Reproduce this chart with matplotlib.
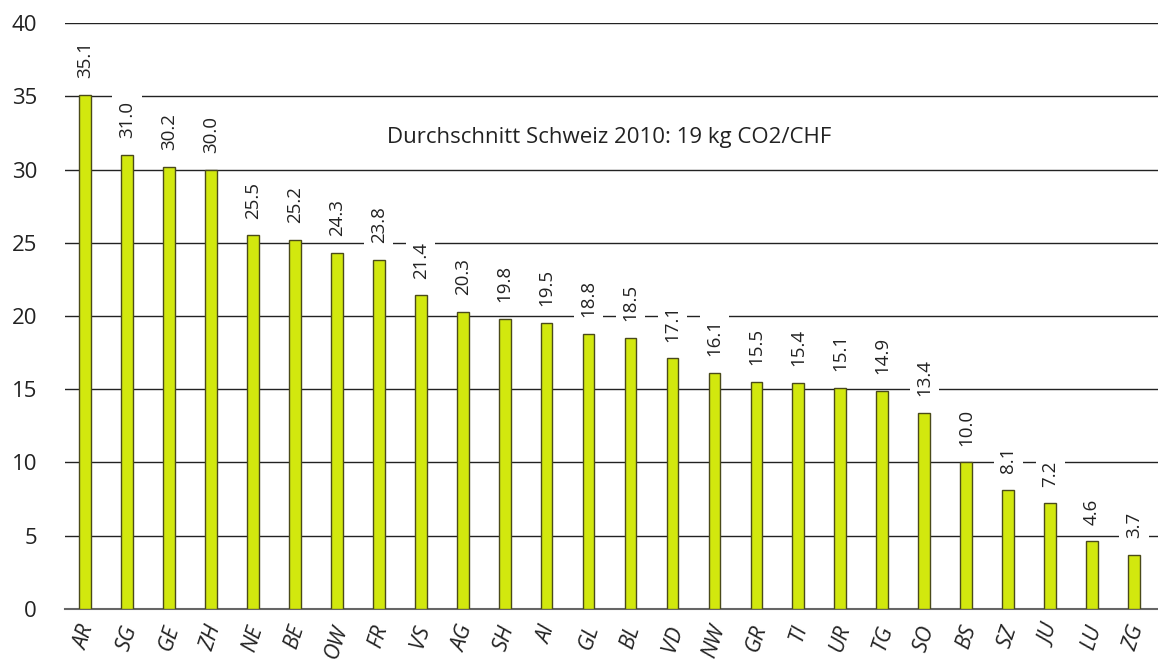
import matplotlib.pyplot as plt

plt.rcParams['font.family'] = ['Open Sans', 'DejaVu Sans']

# Kantone und Werte (kg CO2/CHF)
kantone = ['AR', 'SG', 'GE', 'ZH', 'NE', 'BE', 'OW', 'FR', 'VS', 'AG', 'SH', 'AI', 'GL',
           'BL', 'VD', 'NW', 'GR', 'TI', 'UR', 'TG', 'SO', 'BS', 'SZ', 'JU', 'LU', 'ZG']
werte = [35.1, 31.0, 30.2, 30.0, 25.5, 25.2, 24.3, 23.8, 21.4, 20.3, 19.8, 19.5, 18.8,
         18.5, 17.1, 16.1, 15.5, 15.4, 15.1, 14.9, 13.4, 10.0, 8.1, 7.2, 4.6, 3.7]
yticks = [0, 5, 10, 15, 20, 25, 30, 35, 40]
hinweis = 'Durchschnitt Schweiz 2010: 19 kg CO2/CHF'

fig = plt.figure(figsize=(11.58, 6.61), dpi=100)
ax = fig.add_axes([0.056, 0.079, 0.944, 0.886])

x = range(len(kantone))
ax.bar(x, werte, width=0.28, color='#D2E80E', edgecolor='#4a4a1a', linewidth=1.0, zorder=3)

for i, v in zip(x, werte):
    ax.text(i, v + 1.15, '{:.1f}'.format(v), rotation=90, ha='center', va='bottom',
            fontsize=13.5, color='#222222', zorder=4,
            bbox=dict(facecolor='white', edgecolor='none', pad=4))

ax.text(12.5, 32.2, hinweis, ha='center', va='center', fontsize=16, color='#222222',
        zorder=5)

ax.set_ylim(0, 40)
ax.set_xlim(-0.48, len(kantone) - 0.43)
ax.set_yticks(yticks)
ax.set_yticklabels([str(t) for t in yticks], fontsize=16, color='#222222')
ax.set_xticks(list(x))
ax.set_xticklabels(kantone, rotation=72, fontsize=15.5, style='italic', color='#222222',
                   ha='center', va='top')
ax.tick_params(axis='both', length=0)
ax.tick_params(axis='y', pad=20)
ax.tick_params(axis='x', pad=10)

ax.yaxis.grid(True, color='#222222', linewidth=1.0, zorder=1)
ax.set_axisbelow(True)
for s in ['top', 'right', 'left']:
    ax.spines[s].set_visible(False)
ax.spines['bottom'].set_color('#666666')
ax.spines['bottom'].set_linewidth(1.5)

fig.savefig('out.png', dpi=100)
